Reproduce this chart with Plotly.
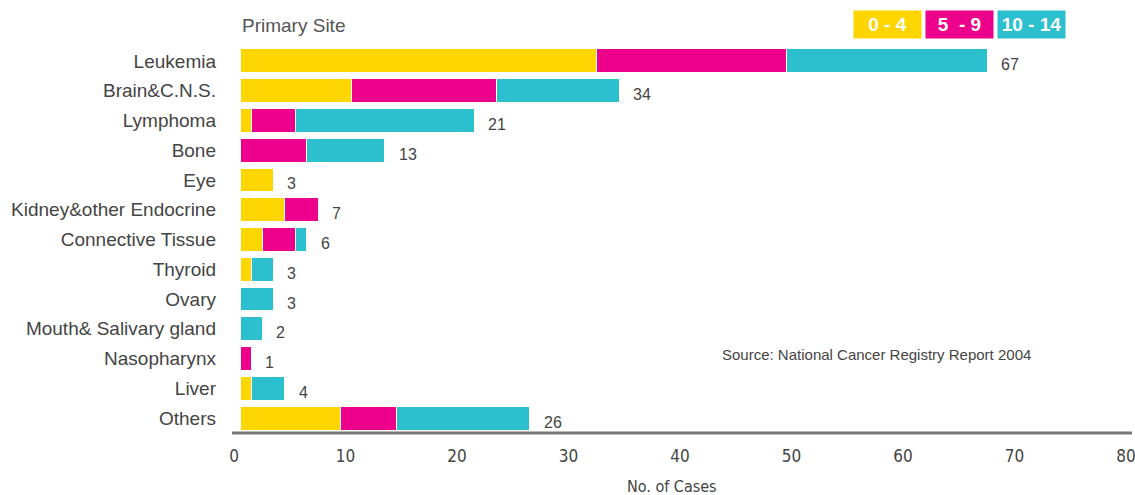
import plotly.graph_objects as go

categories = ["Leukemia", "Brain&C.N.S.", "Lymphoma", "Bone", "Eye",
              "Kidney&other Endocrine", "Connective Tissue", "Thyroid", "Ovary",
              "Mouth& Salivary gland", "Nasopharynx", "Liver", "Others"]
age_0_4 = [32, 10, 1, 0, 3, 4, 2, 1, 0, 0, 0, 1, 9]
age_5_9 = [17, 13, 4, 6, 0, 3, 3, 0, 0, 0, 1, 0, 5]
age_10_14 = [18, 11, 16, 7, 0, 0, 1, 2, 3, 2, 0, 3, 12]
totals = [67, 34, 21, 13, 3, 7, 6, 3, 3, 2, 1, 4, 26]
series_names = ["0 - 4", "5  - 9", "10 - 14"]
colors = ["#FDD600", "#EC008C", "#2CBFCE"]
x_ticks = [0, 10, 20, 30, 40, 50, 60, 70, 80]

MAIN = "Liberation Sans, Arial, sans-serif"
COND = "DejaVu Sans Condensed, Liberation Sans Narrow, Arial Narrow, Liberation Sans, sans-serif"

fig = go.Figure()
for name, vals, col in zip(series_names, [age_0_4, age_5_9, age_10_14], colors):
    fig.add_trace(go.Bar(
        y=categories, x=vals, name=name, orientation="h",
        marker=dict(color=col, line=dict(color="white", width=1)),
        showlegend=False, hoverinfo="skip",
    ))

for cat, tot in zip(categories, totals):
    fig.add_annotation(x=tot, y=cat, text=str(tot), showarrow=False,
                       xanchor="left", xshift=12, yshift=-4,
                       font=dict(family=MAIN, size=16, color="#444"))

# legend boxes
leg_x = [0.687, 0.768, 0.849]
for name, col, lx in zip(series_names, colors, leg_x):
    fig.add_annotation(xref="paper", yref="paper", x=lx, y=1.0556, text="<b>" + name + "</b>",
                       showarrow=False, xanchor="left", yanchor="middle",
                       bgcolor=col, width=65, height=25, align="center", borderpad=1,
                       font=dict(family=MAIN, size=19, color="white"))

fig.add_annotation(xref="paper", yref="paper", x=0.0, y=1.054, text="Primary Site",
                   showarrow=False, xanchor="left", yanchor="middle",
                   font=dict(family=MAIN, size=19, color="#555"))
fig.add_annotation(xref="paper", yref="paper", x=0.538, y=0.204,
                   text="Source: National Cancer Registry Report 2004",
                   showarrow=False, xanchor="left", yanchor="middle",
                   font=dict(family=MAIN, size=15, color="#444"))
fig.add_annotation(xref="paper", yref="paper", x=(672 - 240) / 892, y=-0.137,
                   text="No. of Cases", showarrow=False, xanchor="center", yanchor="middle",
                   font=dict(family=COND, size=16, color="#444"))

fig.add_shape(type="line", xref="paper", yref="paper", x0=-0.009, x1=1.0, y0=0, y1=0,
              line=dict(color="#777", width=3))

fig.update_layout(
    width=1135, height=495,
    margin=dict(l=240, r=3, t=46, b=62, autoexpand=False),
    barmode="stack", bargap=0.2,
    plot_bgcolor="white", paper_bgcolor="white",
    xaxis=dict(range=[0, 80.001], tickvals=x_ticks, showgrid=False, zeroline=False,
               showline=False, ticks="", ticklabelstandoff=11, ticklabelshift=-6,
               automargin=False, ticklabeloverflow="allow",
               tickfont=dict(family=COND, size=17, color="#444")),
    yaxis=dict(categoryorder="array", categoryarray=categories, autorange="reversed",
               showgrid=False, zeroline=False, showline=False, ticks="", ticklabelstandoff=23,
               automargin=False,
               tickfont=dict(family=MAIN, size=19, color="#444")),
)

fig.write_html("out.html", config={"displayModeBar": False},
               post_script="document.body.style.margin='0';")
